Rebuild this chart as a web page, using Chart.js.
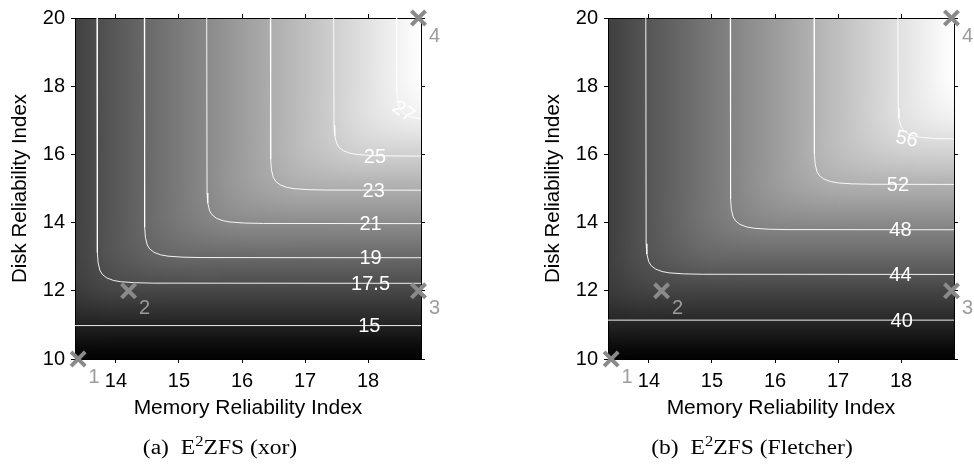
<!DOCTYPE html>
<html>
<head>
<meta charset="utf-8">
<script src="https://cdn.jsdelivr.net/npm/chart.js@4.4.1/dist/chart.umd.min.js"></script>
<style>
  html, body { margin: 0; padding: 0; background: #fff; width: 974px; height: 470px; overflow: hidden; }
  body { position: relative; }
  .panel { position: absolute; top: 0; width: 441px; height: 470px; }
  .panel canvas { display: block; }
  .caption { position: absolute; top: 436px; font-family: "Liberation Serif", "Times New Roman", serif;
             font-size: 20px; color: #000; white-space: nowrap; transform: translateX(-50%) scaleX(1.18); }
  .caption sup { font-size: 14px; vertical-align: 8px; line-height: 0; }
</style>
</head>
<body>
<div class="panel" style="left:0"><canvas id="xorChart" width="441" height="470"></canvas></div>
<div class="panel" style="left:533px"><canvas id="fletcherChart" width="441" height="470"></canvas></div>
<div class="caption" style="left:220px">(a)&nbsp; E<sup>2</sup>ZFS (xor)</div>
<div class="caption" style="left:752px">(b)&nbsp; E<sup>2</sup>ZFS (Fletcher)</div>

<script>
// ---- axes ----
const memoryTicks = [14, 15, 16, 17, 18];
const diskTicks = [10, 12, 14, 16, 18, 20];
const memoryRange = [13.35, 18.84];
const diskRange = [10, 20];

// ---- shaded surface grid (rows run from disk 20 down to disk 10) ----
const memoryNodes = [13.35, 13.85, 14.35, 14.85, 15.35, 15.85, 16.35, 16.85, 17.35, 17.85, 18.35, 18.85];
const diskNodes = [20, 19, 18, 17, 16, 15, 14, 13, 12, 11, 10];

const xorSurface = [
  [16.8, 17.8, 18.8, 19.8, 20.8, 21.8, 22.8, 23.8, 24.8, 25.8, 26.8, 27.8],
  [16.8, 17.8, 18.8, 19.8, 20.8, 21.8, 22.8, 23.8, 24.8, 25.8, 26.8, 27.8],
  [16.8, 17.8, 18.8, 19.8, 20.8, 21.8, 22.8, 23.8, 24.8, 25.8, 26.8, 27.7],
  [16.8, 17.8, 18.8, 19.8, 20.8, 21.8, 22.8, 23.8, 24.8, 25.8, 26.5, 26.9],
  [16.8, 17.8, 18.8, 19.8, 20.8, 21.8, 22.8, 23.8, 24.5, 25.0, 25.1, 25.1],
  [16.8, 17.8, 18.8, 19.8, 20.8, 21.8, 22.5, 23.0, 23.1, 23.1, 23.1, 23.1],
  [16.8, 17.8, 18.8, 19.8, 20.5, 21.0, 21.1, 21.1, 21.1, 21.1, 21.1, 21.1],
  [16.8, 17.8, 18.5, 19.0, 19.1, 19.1, 19.1, 19.1, 19.1, 19.1, 19.1, 19.1],
  [16.5, 17.0, 17.1, 17.1, 17.1, 17.1, 17.1, 17.1, 17.1, 17.1, 17.1, 17.1],
  [15.0, 15.0, 15.0, 15.0, 15.0, 15.0, 15.0, 15.0, 15.0, 15.0, 15.0, 15.0],
  [13.0, 13.0, 13.0, 13.0, 13.0, 13.0, 13.0, 13.0, 13.0, 13.0, 13.0, 13.0]
];
const xorShadeRange = [13.0, 27.8];

const fletcherSurface = [
  [42.1, 43.6, 45.1, 46.6, 48.1, 49.6, 51.2, 52.7, 54.2, 55.7, 57.2, 58.7],
  [42.1, 43.6, 45.1, 46.6, 48.1, 49.6, 51.2, 52.7, 54.2, 55.7, 57.2, 58.7],
  [42.1, 43.6, 45.1, 46.6, 48.1, 49.6, 51.2, 52.7, 54.2, 55.7, 57.2, 58.6],
  [42.1, 43.6, 45.1, 46.6, 48.1, 49.6, 51.2, 52.7, 54.2, 55.7, 56.8, 57.4],
  [42.1, 43.6, 45.1, 46.6, 48.1, 49.6, 51.2, 52.7, 53.7, 54.4, 54.6, 54.6],
  [42.1, 43.6, 45.1, 46.6, 48.1, 49.6, 50.7, 51.4, 51.6, 51.6, 51.6, 51.6],
  [42.1, 43.6, 45.1, 46.6, 47.7, 48.4, 48.6, 48.6, 48.6, 48.6, 48.6, 48.6],
  [42.1, 43.6, 44.6, 45.4, 45.6, 45.6, 45.6, 45.6, 45.6, 45.6, 45.6, 45.6],
  [41.6, 42.4, 42.6, 42.6, 42.6, 42.6, 42.6, 42.6, 42.6, 42.6, 42.6, 42.6],
  [39.6, 39.6, 39.6, 39.6, 39.6, 39.6, 39.6, 39.6, 39.6, 39.6, 39.6, 39.6],
  [36.6, 36.6, 36.6, 36.6, 36.6, 36.6, 36.6, 36.6, 36.6, 36.6, 36.6, 36.6]
];
const fletcherShadeRange = [36.6, 58.7];

// ---- contour lines, as [memory, disk] points ----
const xorContour15 = [[13.35, 10.98], [18.84, 10.98]];
const xorContour17p5 = [[13.70, 20], [13.705, 13.12], [13.717, 12.82], [13.746, 12.595], [13.784, 12.48], [13.856, 12.376],
  [13.96, 12.304], [14.075, 12.266], [14.30, 12.237], [14.60, 12.225], [18.84, 12.22]];
const xorContour19 = [[14.45, 20], [14.455, 13.87], [14.467, 13.57], [14.496, 13.345], [14.534, 13.23], [14.606, 13.126],
  [14.71, 13.054], [14.825, 13.016], [15.05, 12.987], [15.35, 12.975], [18.84, 12.97]];
const xorContour21 = [[15.44, 20], [15.445, 14.87], [15.457, 14.57], [15.486, 14.345], [15.524, 14.23], [15.596, 14.126],
  [15.70, 14.054], [15.815, 14.016], [16.04, 13.987], [16.34, 13.975], [18.84, 13.97]];
const xorContour23 = [[16.45, 20], [16.455, 15.85], [16.467, 15.55], [16.496, 15.325], [16.534, 15.21], [16.606, 15.106],
  [16.71, 15.034], [16.825, 14.996], [17.05, 14.967], [17.35, 14.955], [18.84, 14.95]];
const xorContour25 = [[17.455, 20], [17.46, 16.85], [17.472, 16.55], [17.501, 16.325], [17.539, 16.21], [17.611, 16.106],
  [17.715, 16.034], [17.83, 15.996], [18.055, 15.967], [18.355, 15.955], [18.84, 15.95]];
const xorContour27 = [[18.45, 20], [18.455, 17.9], [18.467, 17.6], [18.496, 17.375], [18.534, 17.26], [18.606, 17.156],
  [18.71, 17.084], [18.825, 17.046], [18.84, 17.04]];

const fletcherContour40 = [[13.35, 11.14], [18.84, 11.14]];
const fletcherContour44 = [[13.95, 20], [13.955, 13.38], [13.967, 13.08], [13.996, 12.855], [14.034, 12.74], [14.106, 12.636],
  [14.21, 12.564], [14.325, 12.526], [14.55, 12.497], [14.85, 12.485], [18.84, 12.48]];
const fletcherContour48 = [[15.29, 20], [15.295, 14.69], [15.307, 14.39], [15.336, 14.165], [15.374, 14.05], [15.446, 13.946],
  [15.55, 13.874], [15.665, 13.836], [15.89, 13.807], [16.19, 13.795], [18.84, 13.79]];
const fletcherContour52 = [[16.62, 20], [16.625, 16.02], [16.637, 15.72], [16.666, 15.495], [16.704, 15.38], [16.776, 15.276],
  [16.88, 15.204], [16.995, 15.166], [17.22, 15.137], [17.52, 15.125], [18.84, 15.12]];
const fletcherContour56 = [[17.95, 20], [17.955, 17.35], [17.967, 17.05], [17.996, 16.825], [18.034, 16.71], [18.106, 16.606],
  [18.21, 16.534], [18.325, 16.496], [18.55, 16.467], [18.84, 16.455]];

// ---- contour level labels ----
const xorLabelText = ['15', '17.5', '19', '21', '23', '25', '27'];
const xorLabelMemory = [18.02, 18.04, 18.04, 18.04, 18.09, 18.11, 18.56];
const xorLabelDisk = [10.98, 12.22, 12.97, 13.97, 14.95, 15.95, 17.28];
const xorLabelAngle = [0, 0, 0, 0, 0, 0, 35];

const fletcherLabelText = ['40', '44', '48', '52', '56'];
const fletcherLabelMemory = [18.01, 17.99, 17.99, 17.95, 18.09];
const fletcherLabelDisk = [11.14, 12.48, 13.79, 15.12, 16.47];
const fletcherLabelAngle = [0, 0, 0, 0, 12];

// ---- configurations 1-4 ----
const configMemory = [13.40, 14.20, 18.80, 18.80];
const configDisk = [10, 12, 12, 20];
const configText = ['1', '2', '3', '4'];

// ---------------------------------------------------------------
const SANS = '"Liberation Sans", Arial, Helvetica, sans-serif';

const surfacePlugin = {
  id: 'surface',
  beforeDraw(chart, args, opts) {
    const { ctx, chartArea: a, scales } = chart;
    const xs = scales.x, ys = scales.y;
    const cols = opts.memory.length, rows = opts.disk.length;
    const [lo, hi] = opts.range;
    const off = document.createElement('canvas');
    off.width = cols; off.height = rows;
    const octx = off.getContext('2d');
    const img = octx.createImageData(cols, rows);
    for (let r = 0; r < rows; r++) {
      for (let c = 0; c < cols; c++) {
        const t = Math.max(0, Math.min(1, (opts.values[r][c] - lo) / (hi - lo)));
        const g = Math.round(255 * t);
        const k = (r * cols + c) * 4;
        img.data[k] = g; img.data[k + 1] = g; img.data[k + 2] = g; img.data[k + 3] = 255;
      }
    }
    octx.putImageData(img, 0, 0);
    const x0 = xs.getPixelForValue(opts.memory[0]);
    const x1 = xs.getPixelForValue(opts.memory[cols - 1]);
    const y0 = ys.getPixelForValue(opts.disk[0]);
    const y1 = ys.getPixelForValue(opts.disk[rows - 1]);
    ctx.save();
    ctx.beginPath();
    ctx.rect(a.left, a.top, a.right - a.left, a.bottom - a.top);
    ctx.clip();
    ctx.imageSmoothingEnabled = true;
    ctx.imageSmoothingQuality = 'high';
    ctx.drawImage(off, 0.5, 0.5, cols - 1, rows - 1, x0, y0, x1 - x0, y1 - y0);
    ctx.restore();
  }
};

const textPlugin = {
  id: 'plotText',
  afterDatasetsDraw(chart, args, opts) {
    const { ctx, scales } = chart;
    const xs = scales.x, ys = scales.y;
    ctx.save();
    ctx.font = '20px ' + SANS;
    ctx.textAlign = 'center';
    ctx.textBaseline = 'middle';
    ctx.fillStyle = '#ffffff';
    opts.levelText.forEach((t, i) => {
      ctx.save();
      ctx.translate(xs.getPixelForValue(opts.levelMemory[i]), ys.getPixelForValue(opts.levelDisk[i]) + 1);
      ctx.rotate(opts.levelAngle[i] * Math.PI / 180);
      ctx.fillText(t, 0, 0);
      ctx.restore();
    });
    ctx.fillStyle = '#9c9c9c';
    configText.forEach((t, i) => {
      ctx.fillText(t, xs.getPixelForValue(configMemory[i]) + 16, ys.getPixelForValue(configDisk[i]) + 18);
    });
    ctx.restore();
  }
};

function toPoints(list) { return list.map(p => ({ x: p[0], y: p[1] })); }

function contourSet(list) {
  return {
    type: 'line',
    data: toPoints(list),
    borderColor: 'rgba(255,255,255,0.92)',
    borderWidth: 1,
    pointRadius: 0,
    tension: 0,
    fill: false,
    order: 2
  };
}

function axisGrid() {
  return { display: true, drawOnChartArea: false, drawTicks: true, tickLength: 4, color: '#000', lineWidth: 1 };
}

function fixTicks(values) {
  return function (scale) { scale.ticks = values.map(v => ({ value: v })); };
}

function buildChart(id, surface, shadeRange, contours, labels) {
  return new Chart(document.getElementById(id), {
    type: 'scatter',
    data: {
      datasets: contours.map(contourSet).concat([{
        type: 'scatter',
        data: configMemory.map((m, i) => ({ x: m, y: configDisk[i] })),
        pointStyle: 'crossRot',
        pointRadius: 10,
        pointHoverRadius: 10,
        borderWidth: 4,
        borderColor: '#8a8a8a',
        backgroundColor: '#8a8a8a',
        clip: false,
        order: 0
      }])
    },
    options: {
      responsive: false,
      animation: false,
      devicePixelRatio: 1,
      layout: { padding: 0 },
      events: [],
      plugins: {
        legend: { display: false },
        tooltip: { enabled: false },
        surface: { memory: memoryNodes, disk: diskNodes, values: surface, range: shadeRange },
        plotText: labels
      },
      scales: {
        x: {
          type: 'linear', position: 'bottom', min: memoryRange[0], max: memoryRange[1],
          afterBuildTicks: fixTicks(memoryTicks),
          afterFit(s) { s.height = 111; },
          grid: axisGrid(), border: { display: true, color: '#000', width: 1 },
          ticks: { color: '#000', font: { family: SANS, size: 20 }, padding: 6, maxRotation: 0 },
          title: { display: true, text: 'Memory Reliability Index', color: '#000',
                   font: { family: SANS, size: 21, lineHeight: 1 }, padding: { top: 0, bottom: 51 } }
        },
        x2: {
          type: 'linear', position: 'top', min: memoryRange[0], max: memoryRange[1],
          afterBuildTicks: fixTicks(memoryTicks),
          afterFit(s) { s.height = 13; },
          grid: axisGrid(), border: { display: true, color: '#000', width: 1 },
          ticks: { display: false }
        },
        y: {
          type: 'linear', position: 'left', min: diskRange[0], max: diskRange[1],
          afterBuildTicks: fixTicks(diskTicks),
          afterFit(s) { s.width = 75; },
          grid: axisGrid(), border: { display: true, color: '#000', width: 1 },
          ticks: { color: '#000', font: { family: SANS, size: 20 }, padding: 6 },
          title: { display: true, text: 'Disk Reliability Index', color: '#000',
                   font: { family: SANS, size: 20.5, lineHeight: 1 }, padding: { top: 10, bottom: 0 } }
        },
        y2: {
          type: 'linear', position: 'right', min: diskRange[0], max: diskRange[1],
          afterBuildTicks: fixTicks(diskTicks),
          afterFit(s) { s.width = 20; },
          grid: axisGrid(), border: { display: true, color: '#000', width: 1 },
          ticks: { display: false }
        }
      }
    },
    plugins: [surfacePlugin, textPlugin]
  });
}

buildChart('xorChart', xorSurface, xorShadeRange,
  [xorContour15, xorContour17p5, xorContour19, xorContour21, xorContour23, xorContour25, xorContour27],
  { levelText: xorLabelText, levelMemory: xorLabelMemory, levelDisk: xorLabelDisk, levelAngle: xorLabelAngle });

buildChart('fletcherChart', fletcherSurface, fletcherShadeRange,
  [fletcherContour40, fletcherContour44, fletcherContour48, fletcherContour52, fletcherContour56],
  { levelText: fletcherLabelText, levelMemory: fletcherLabelMemory, levelDisk: fletcherLabelDisk, levelAngle: fletcherLabelAngle });
</script>
</body>
</html>
